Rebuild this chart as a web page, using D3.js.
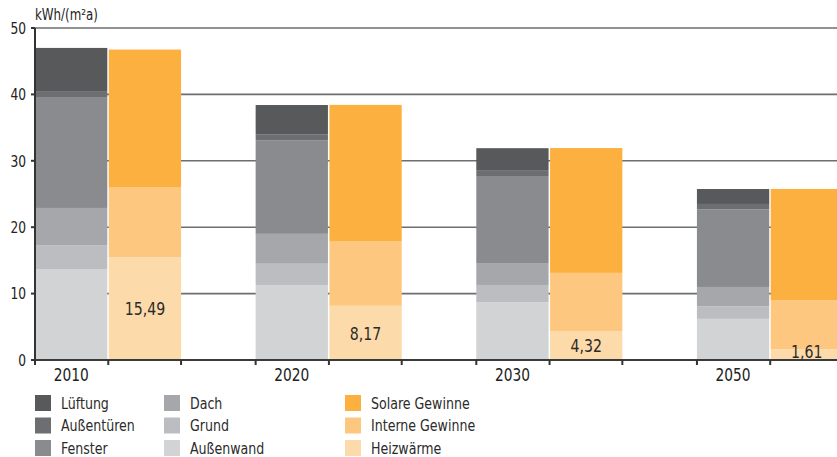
<!DOCTYPE html>
<html>
<head>
<meta charset="utf-8">
<script src="https://cdn.jsdelivr.net/npm/d3@7/dist/d3.min.js"></script>
<style>
  html, body { margin: 0; padding: 0; background: #fff; }
  svg { display: block; font-family: "Liberation Sans Narrow", "DejaVu Sans Condensed", "Liberation Sans", sans-serif; }
</style>
</head>
<body>
<svg id="chart" width="837" height="457"></svg>
<script>
// Years on the x axis
const years = ["2010", "2020", "2030", "2050"];

// Heat losses (kWh/(m²a)), stacked bottom to top
const aussenwand   = [13.7, 11.3, 8.7, 6.2];
const grund        = [3.6, 3.2, 2.6, 1.9];
const dach         = [5.6, 4.5, 3.3, 2.9];
const fenster      = [16.6, 14.1, 13.0, 11.7];
const aussentueren = [1.0, 0.9, 1.0, 0.8];
const lueftung     = [6.5, 4.4, 3.3, 2.25];

// Gains and heating demand, stacked bottom to top
const heizwaerme = [15.49, 8.17, 4.32, 1.61];
const interne    = [10.56, 9.75, 8.8, 7.4];
const solare     = [20.7, 20.5, 18.8, 16.75];

const yTicks = [0, 10, 20, 30, 40, 50];

const lossSeries = [
  { name: "Außenwand",  values: aussenwand,   color: "#d1d3d4" },
  { name: "Grund",      values: grund,        color: "#bcbdc0" },
  { name: "Dach",       values: dach,         color: "#a6a7aa" },
  { name: "Fenster",    values: fenster,      color: "#8a8b8e" },
  { name: "Außentüren", values: aussentueren, color: "#6d6e71" },
  { name: "Lüftung",    values: lueftung,     color: "#58595b" }
];
const gainSeries = [
  { name: "Heizwärme",       values: heizwaerme, color: "#fddaa9" },
  { name: "Interne Gewinne", values: interne,    color: "#fdc780" },
  { name: "Solare Gewinne",  values: solare,     color: "#fbb040" }
];

const svg = d3.select("#chart");
const plotLeft = 35, plotRight = 843, plotTop = 28, plotBase = 360;
const narrow = 0.85; // horizontal condensing of all labels

const y = d3.scaleLinear().domain([0, 50]).range([plotBase, plotTop]);
const x = d3.scaleBand().domain(years).range([plotLeft, plotRight]).paddingInner(0.338).paddingOuter(0);
const inner = d3.scaleBand().domain(["loss", "gain"]).range([0, x.bandwidth()]).paddingInner(0.02);

const de = d3.formatLocale({ decimal: ",", thousands: ".", grouping: [3], currency: ["", " €"] });
const fmt = de.format(".2f");

const at = (px, py) => `translate(${px},${py}) scale(${narrow},1)`;

// Horizontal grid lines
svg.append("g").selectAll("line")
  .data(yTicks.filter(t => t > 0))
  .join("line")
  .attr("x1", plotLeft).attr("x2", 837)
  .attr("y1", d => y(d)).attr("y2", d => y(d))
  .attr("stroke", "#6d6e71").attr("stroke-width", 1.6);

// Stacked columns
function drawStack(series, key) {
  const g = svg.append("g");
  years.forEach((yr, i) => {
    let acc = 0;
    series.forEach(s => {
      const v0 = acc, v1 = acc + s.values[i];
      acc = v1;
      g.append("rect")
        .attr("x", x(yr) + inner(key))
        .attr("width", inner.bandwidth())
        .attr("y", y(v1))
        .attr("height", y(v0) - y(v1))
        .attr("fill", s.color);
    });
  });
}
drawStack(lossSeries, "loss");
drawStack(gainSeries, "gain");

// Heizwärme value labels
svg.append("g").selectAll("text")
  .data(years)
  .join("text")
  .attr("transform", (d, i) => at(
    x(d) + inner("gain") + inner.bandwidth() / 2,
    Math.min((y(0) + y(heizwaerme[i])) / 2, plotBase - 8.5)))
  .attr("dy", "0.36em")
  .attr("text-anchor", "middle")
  .attr("font-size", 18.5)
  .attr("fill", "#2b2b2b")
  .text((d, i) => fmt(heizwaerme[i]));

// Y axis
const yAxis = svg.append("g");
yAxis.append("line")
  .attr("x1", plotLeft).attr("x2", plotLeft).attr("y1", plotTop).attr("y2", plotBase + 5)
  .attr("stroke", "#333").attr("stroke-width", 2);
yAxis.selectAll("line.tick")
  .data(yTicks)
  .join("line").attr("class", "tick")
  .attr("x1", plotLeft - 4).attr("x2", plotLeft)
  .attr("y1", d => y(d)).attr("y2", d => y(d))
  .attr("stroke", "#333").attr("stroke-width", 2);
yAxis.selectAll("text")
  .data(yTicks)
  .join("text")
  .attr("transform", d => at(26, y(d)))
  .attr("dy", "0.36em")
  .attr("text-anchor", "end")
  .attr("font-size", 16)
  .attr("fill", "#222")
  .text(d => d);

svg.append("text")
  .attr("transform", at(plotLeft, 20))
  .attr("font-size", 15.5).attr("fill", "#222")
  .text("kWh/(m²a)");

// X axis baseline and ticks at bar edges
const xAxis = svg.append("g");
xAxis.append("line")
  .attr("x1", plotLeft).attr("x2", 837).attr("y1", plotBase).attr("y2", plotBase)
  .attr("stroke", "#3a3a3a").attr("stroke-width", 2);
const edges = [];
years.forEach(yr => {
  edges.push(x(yr) + inner("loss"));
  edges.push(x(yr) + inner("gain") - 0.5);
  edges.push(x(yr) + x.bandwidth());
});
xAxis.selectAll("line.tick")
  .data(edges.filter(e => e < 837))
  .join("line").attr("class", "tick")
  .attr("x1", d => d).attr("x2", d => d)
  .attr("y1", plotBase).attr("y2", plotBase + 5)
  .attr("stroke", "#333").attr("stroke-width", 2);
xAxis.selectAll("text")
  .data(years)
  .join("text")
  .attr("transform", d => at(x(d) + inner("loss") + inner.bandwidth() / 2, 381))
  .attr("text-anchor", "middle")
  .attr("font-size", 18)
  .attr("fill", "#222")
  .text(d => d);

// Legend
const legendCols = [
  { x: 35,  items: [lossSeries[5], lossSeries[4], lossSeries[3]] },
  { x: 164, items: [lossSeries[2], lossSeries[1], lossSeries[0]] },
  { x: 345, items: [gainSeries[2], gainSeries[1], gainSeries[0]] }
];
const legend = svg.append("g");
legendCols.forEach(col => {
  col.items.forEach((s, r) => {
    const yy = 395 + r * 22.5;
    legend.append("rect")
      .attr("x", col.x).attr("y", yy).attr("width", 16).attr("height", 16)
      .attr("fill", s.color);
    legend.append("text")
      .attr("transform", at(col.x + 26, yy + 13.5))
      .attr("font-size", 16.5).attr("fill", "#2b2b2b")
      .text(s.name);
  });
});
</script>
</body>
</html>
